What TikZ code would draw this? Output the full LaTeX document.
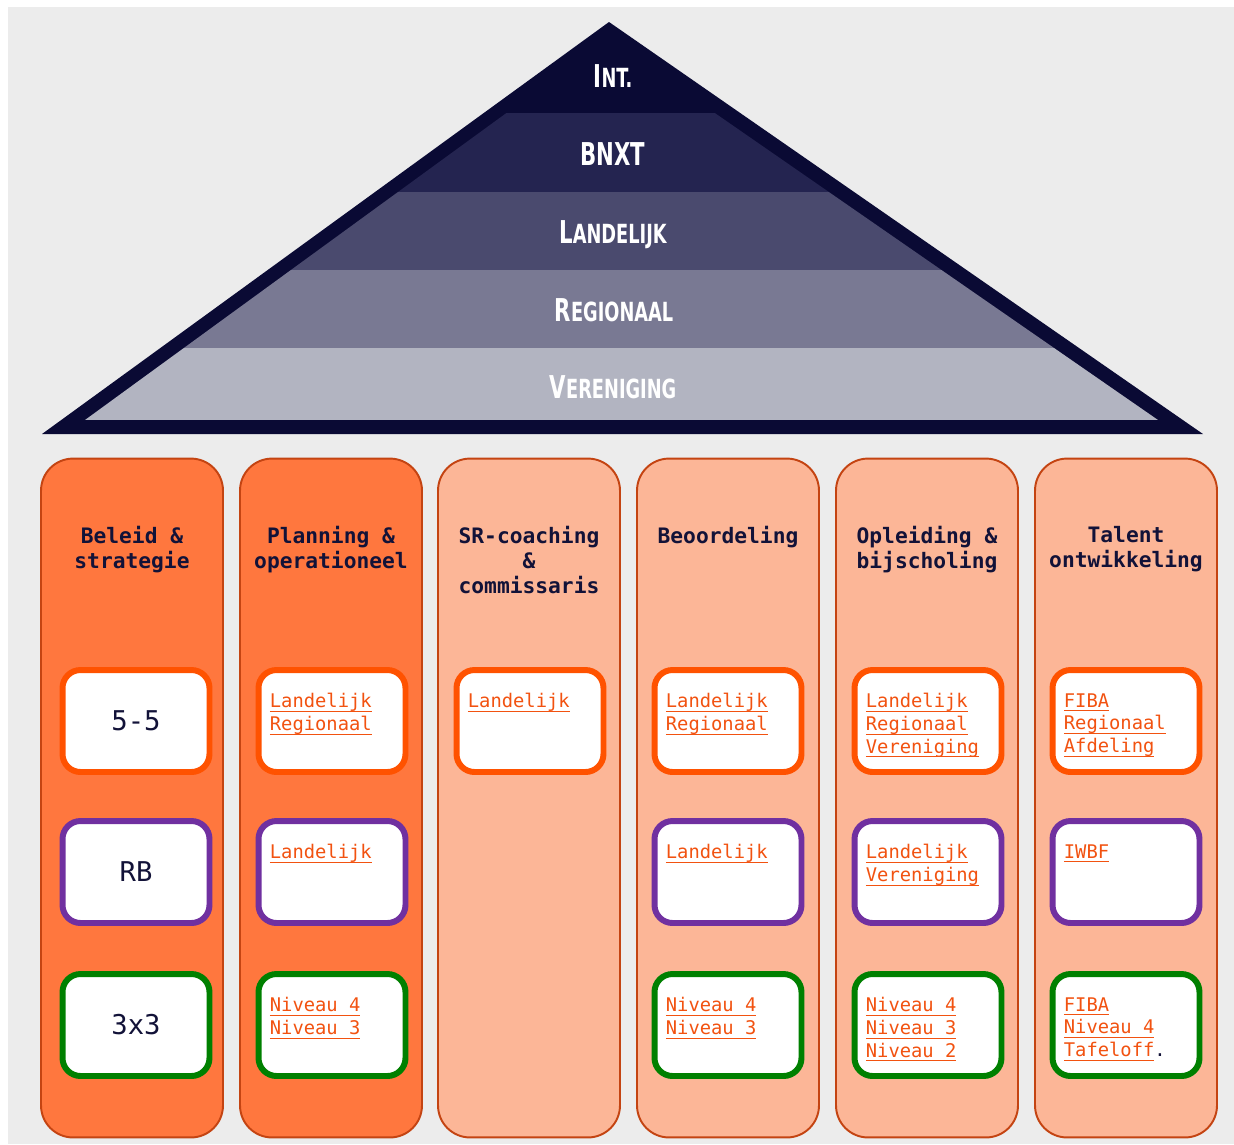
\documentclass[tikz,border=0pt]{standalone}
\usepackage{fontspec}
\setmonofont{DejaVu Sans Mono}
\newfontfamily\lvlfont{DejaVu Sans Condensed}

\definecolor{bg}{RGB}{236,236,236}
\definecolor{navy}{RGB}{10,10,52}
\definecolor{bandA}{RGB}{36,36,80}
\definecolor{bandB}{RGB}{74,74,110}
\definecolor{bandC}{RGB}{121,121,147}
\definecolor{bandD}{RGB}{178,180,193}
\definecolor{orfull}{RGB}{255,119,62}
\definecolor{orlight}{RGB}{252,182,151}
\definecolor{orrim}{RGB}{196,68,18}
\definecolor{rimred}{RGB}{255,82,0}
\definecolor{rimpurple}{RGB}{112,48,160}
\definecolor{rimgreen}{RGB}{0,128,0}
\definecolor{link}{RGB}{242,82,16}
\definecolor{ink}{RGB}{18,18,56}

\newlength\lnkw
\newcommand\lnk[1]{\settowidth\lnkw{#1}\rlap{\rule[-2.3pt]{\lnkw}{0.6pt}}#1}
\newcommand\lv[2]{{\fontsize{17.9}{18}\selectfont#1}{\fontsize{15}{16}\selectfont#2}}

\tikzset{
  col/.style={draw=orrim, line width=1.1pt, rounded corners=0.64cm, minimum width=3.64cm, minimum height=13.58cm, inner sep=0},
  kop/.style={anchor=north, align=center, inner sep=0, text=ink, font=\ttfamily\bfseries\fontsize{12.1}{14.2}\selectfont},
  vak/.style={fill=white, line width=3.4pt, rounded corners=0.36cm, minimum width=2.94cm, minimum height=2.04cm, inner sep=0},
  lnks/.style={anchor=north west, align=left, inner sep=0, text=link, font=\ttfamily\fontsize{10.7}{13}\selectfont},
  mid/.style={text=ink, font=\ttfamily\fontsize{15.5}{16}\selectfont},
  lvl/.style={anchor=base, inner sep=0, text=white, font=\lvlfont\bfseries}
}

\begin{document}
\begin{tikzpicture}[x=0.02cm, y=-0.02cm]
    \useasboundingbox (0,0) rectangle (1234,1144);
    \fill[white] (0,0) rectangle (1234,1144);
    \fill[bg] (8,7) rectangle (1234,1144);

    % the pyramid
    \fill[navy] (609,22) -- (1203,434) -- (42,434) -- cycle;
    \begin{scope}
        \clip (608,39) -- (1158,420) -- (85,420) -- cycle;
        \fill[bandA] (0,113) rectangle (1234,192);
        \fill[bandB] (0,192) rectangle (1234,270);
        \fill[bandC] (0,270) rectangle (1234,348);
        \fill[bandD] (0,348) rectangle (1234,420);
    \end{scope}
    \node[lvl] (int) at (613,87) {\scalebox{0.75}[1]{\lv{I}{NT.}}};
    \node[lvl] (bnxt) at (613,165) {\scalebox{0.75}[1]{\lv{BNXT}{}}};
    \node[lvl] (land) at (613,243) {\scalebox{0.75}[1]{\lv{L}{ANDELIJK}}};
    \node[lvl] (regio) at (614,321) {\scalebox{0.75}[1]{\lv{R}{EGIONAAL}}};
    \node[lvl] (ver) at (613,398) {\scalebox{0.75}[1]{\lv{V}{ERENIGING}}};

    % columns
    \node[col, fill=orfull] (c1) at (132,798) {};
    \node[col, fill=orfull] (c2) at (331,798) {};
    \node[col, fill=orlight] (c3) at (529,798) {};
    \node[col, fill=orlight] (c4) at (728,798) {};
    \node[col, fill=orlight] (c5) at (927,798) {};
    \node[col, fill=orlight] (c6) at (1126,798) {};

    \node[kop] (h1) at (132,526) {Beleid \&\\strategie};
    \node[kop] (h2) at (331,526) {Planning \&\\operationeel};
    \node[kop] (h3) at (529,526) {SR-coaching\\\&\\commissaris};
    \node[kop] (h4) at (728,526) {Beoordeling};
    \node[kop] (h5) at (927,526) {Opleiding \&\\bijscholing};
    \node[kop] (h6) at (1126,526) {Talent\\ontwikkeling};

    % boxes, first column
    \node[vak, draw=rimred, mid] (b11) at (136,721) {5-5};
    \node[vak, draw=rimpurple, mid] (b12) at (136,872) {RB};
    \node[vak, draw=rimgreen, mid] (b13) at (136,1025) {3x3};

    % boxes with links
    \node[vak, draw=rimred] (b21) at (332,721) {};
    \node[vak, draw=rimpurple] (b22) at (332,872) {};
    \node[vak, draw=rimgreen] (b23) at (332,1025) {};
    \node[vak, draw=rimred] (b31) at (530,721) {};
    \node[vak, draw=rimred] (b41) at (728,721) {};
    \node[vak, draw=rimpurple] (b42) at (728,872) {};
    \node[vak, draw=rimgreen] (b43) at (728,1025) {};
    \node[vak, draw=rimred] (b51) at (928,721) {};
    \node[vak, draw=rimpurple] (b52) at (928,872) {};
    \node[vak, draw=rimgreen] (b53) at (928,1025) {};
    \node[vak, draw=rimred] (b61) at (1126,721) {};
    \node[vak, draw=rimpurple] (b62) at (1126,872) {};
    \node[vak, draw=rimgreen] (b63) at (1126,1025) {};

    \node[lnks] (t21) at ([shift={(14,26)}]b21.north west) {\lnk{Landelijk}\\\lnk{Regionaal}};
    \node[lnks] (t22) at ([shift={(14,26)}]b22.north west) {\lnk{Landelijk}};
    \node[lnks] (t23) at ([shift={(14,26)}]b23.north west) {\lnk{Niveau 4}\\\lnk{Niveau 3}};
    \node[lnks] (t31) at ([shift={(14,26)}]b31.north west) {\lnk{Landelijk}};
    \node[lnks] (t41) at ([shift={(14,26)}]b41.north west) {\lnk{Landelijk}\\\lnk{Regionaal}};
    \node[lnks] (t42) at ([shift={(14,26)}]b42.north west) {\lnk{Landelijk}};
    \node[lnks] (t43) at ([shift={(14,26)}]b43.north west) {\lnk{Niveau 4}\\\lnk{Niveau 3}};
    \node[lnks] (t51) at ([shift={(14,26)}]b51.north west) {\lnk{Landelijk}\\\lnk{Regionaal}\\\lnk{Vereniging}};
    \node[lnks] (t52) at ([shift={(14,26)}]b52.north west) {\lnk{Landelijk}\\\lnk{Vereniging}};
    \node[lnks] (t53) at ([shift={(14,26)}]b53.north west) {\lnk{Niveau 4}\\\lnk{Niveau 3}\\\lnk{Niveau 2}};
    \node[lnks] (t61) at ([shift={(14,26)}]b61.north west) {\lnk{FIBA}\\\lnk{Regionaal}\\\lnk{Afdeling}};
    \node[lnks] (t62) at ([shift={(14,26)}]b62.north west) {\lnk{IWBF}};
    \node[lnks] (t63) at ([shift={(14,26)}]b63.north west) {\lnk{FIBA}\\\lnk{Niveau 4}\\\lnk{Tafeloff}\textcolor{ink}{.}};
\end{tikzpicture}
\end{document}
